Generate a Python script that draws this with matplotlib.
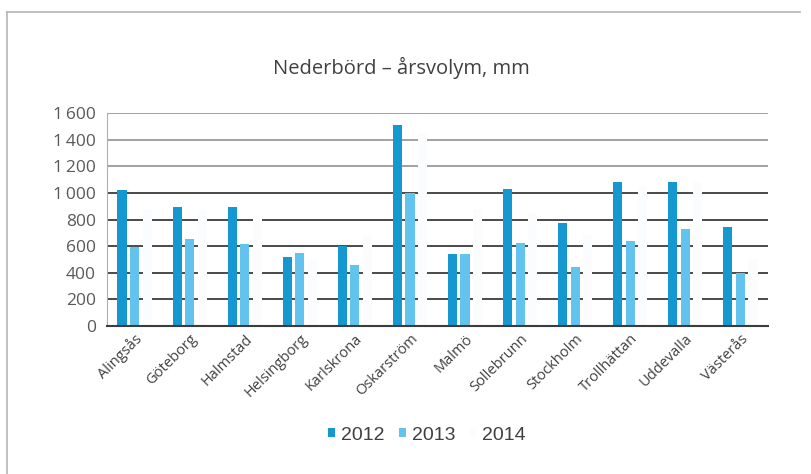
import numpy as np
import matplotlib.pyplot as plt
from matplotlib.lines import Line2D

# Årsnederbörd per ort (mm)
orter = ['Alingsås', 'Göteborg', 'Halmstad', 'Helsingborg', 'Karlskrona', 'Oskarström',
         'Malmö', 'Sollebrunn', 'Stockholm', 'Trollhättan', 'Uddevalla', 'Västerås']
ar_2012 = [1025, 895, 895, 515, 600, 1513, 540, 1030, 775, 1080, 1080, 740]
ar_2013 = [595, 657, 615, 545, 457, 1000, 540, 625, 445, 640, 725, 395]
ar_2014 = [880, 870, 830, 500, 680, 1450, 880, 850, 680, 1050, 1080, 500]
yticks = [0, 200, 400, 600, 800, 1000, 1200, 1400, 1600]
ytick_labels = ['0', '200', '400', '600', '800', '1\u2009000', '1\u2009200', '1\u2009400', '1\u2009600']

plt.rcParams['font.family'] = ['Open Sans', 'DejaVu Sans']

fig = plt.figure(figsize=(8.11, 4.74), dpi=100)
ax = fig.add_axes([107 / 811, 1 - 326 / 474, 661 / 811, 213 / 474])

x = np.arange(len(orter))
w = 0.165
step = 0.228
ax.bar(x - step, ar_2012, w, color='#1597cf', label='2012', zorder=3)
ax.bar(x, ar_2013, w, color='#62c4ee', label='2013', zorder=3)
ax.bar(x + step, ar_2014, w, color='#fbfcfd', label='2014', zorder=3)

ax.set_xlim(-0.5, len(orter) - 0.5)
ax.set_ylim(0, 1600)
ax.set_yticks(yticks)
ax.set_yticklabels(ytick_labels, fontsize=12.5, color='#595959')
ax.set_xticks(x)
ax.set_xticklabels(orter, rotation=45, ha='right', rotation_mode='anchor',
                   fontsize=10.5, color='#404040')
ax.tick_params(axis='y', length=0, pad=8)
ax.tick_params(axis='x', length=0, pad=4)

for y in yticks[1:]:
    col = '#9a9a9a' if y >= 1200 else '#3c3c3c'
    ax.axhline(y, color=col, lw=1.3, zorder=1)

for s in ['top', 'right']:
    ax.spines[s].set_visible(False)
ax.spines['left'].set_color('#b0b0b0')
ax.spines['bottom'].set_color('#3c3c3c')
ax.spines['bottom'].set_linewidth(1.5)
ax.spines['bottom'].set_zorder(4)

fig.text(401 / 811, 1 - 68 / 474, 'Nederbörd – årsvolym, mm', ha='center', va='center',
         fontsize=14.5, color='#404040')

leg = fig.legend(loc='center', bbox_to_anchor=(427 / 811, 1 - 435 / 474), ncol=3,
                 frameon=False, handlelength=0.35, handleheight=0.35, handletextpad=0.3,
                 columnspacing=0.75, prop={'family': ['Liberation Sans'], 'size': 14})
for t in leg.get_texts():
    t.set_color('#404040')

# ram runt diagrammet
fig.add_artist(Line2D([7 / 811, 800 / 811], [1 - 12 / 474, 1 - 12 / 474], color='#b5b5b5', lw=1.2))
fig.add_artist(Line2D([7 / 811, 7 / 811], [1 - 12 / 474, 0], color='#b5b5b5', lw=1.2))

fig.savefig('out.png', dpi=100)
